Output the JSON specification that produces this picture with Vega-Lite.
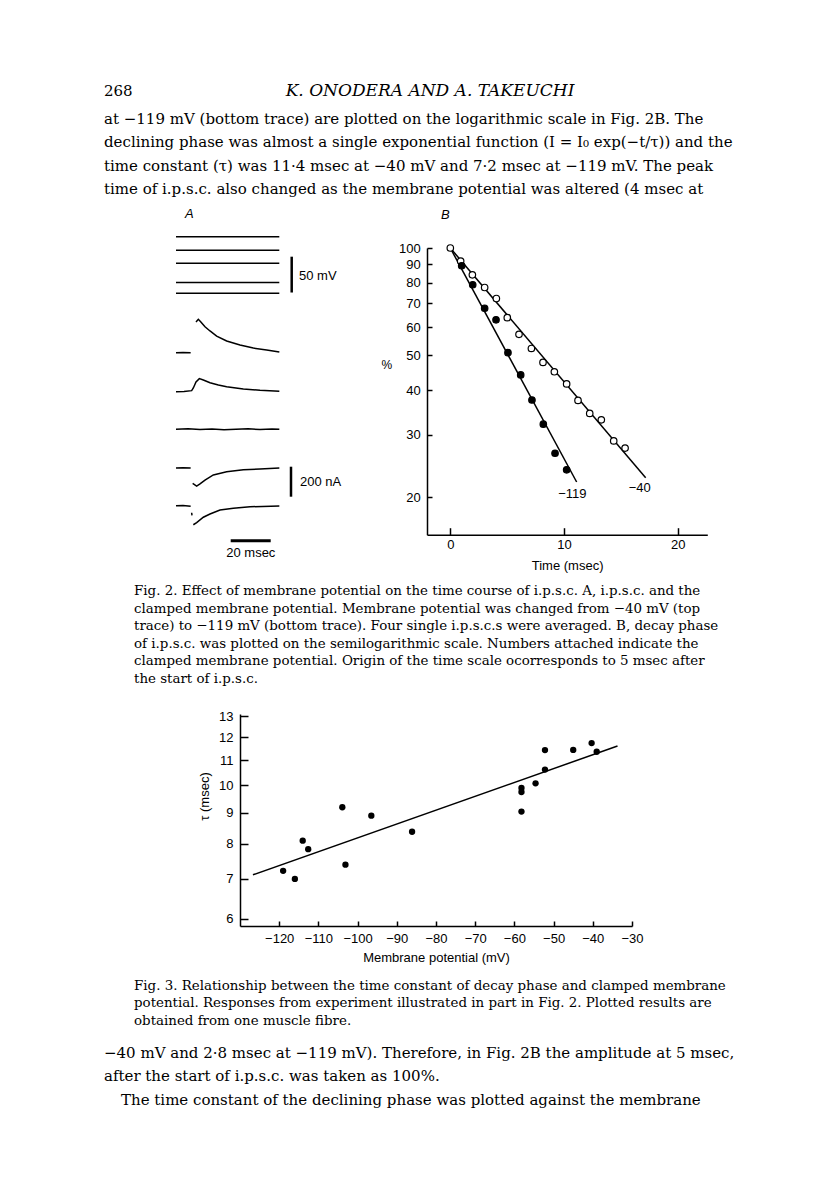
{
  "$schema": "https://vega.github.io/schema/vega-lite/v6.json",
  "background": "white",
  "padding": {"left": 104, "top": 75, "right": 0, "bottom": 0},
  "spacing": 0,
  "config": {
    "view": {"stroke": null},
    "font": "Liberation Sans",
    "axis": {"grid": false, "domainColor": "black", "domainWidth": 1.5, "tickColor": "black", "tickWidth": 1.5, "labelColor": "black", "titleColor": "black", "labelFont": "Liberation Sans", "titleFont": "Liberation Sans", "labelFontSize": 13, "titleFontSize": 13, "titleFontWeight": "normal", "labelFlush": false, "labelOverlap": false},
    "title": {"color": "black"}
  },
  "vconcat": [
    {
      "width": 616, "height": 31.5,
      "data": {"values": [{"line": 0, "pageNumber": "268", "runningHead": "K. ONODERA AND A. TAKEUCHI"}]},
      "encoding": {"y": {"field": "line", "type": "quantitative", "scale": {"domain": [-0.5, 0.5], "reverse": true, "nice": false, "zero": false}, "axis": null}},
      "layer": [
        {"mark": {"type": "text", "align": "left", "baseline": "middle", "font": "DejaVu Serif", "fontSize": 15, "color": "black"},
         "encoding": {"x": {"value": 0}, "text": {"field": "pageNumber"}}},
        {"mark": {"type": "text", "align": "center", "baseline": "middle", "font": "DejaVu Serif", "fontStyle": "italic", "fontSize": 17, "dx": 18, "color": "black"},
         "encoding": {"text": {"field": "runningHead"}}}
      ]
    },
    {
      "width": 616, "height": 100,
      "data": {"values": [
        {"line": 0, "text": "at −119 mV (bottom trace) are plotted on the logarithmic scale in Fig. 2B. The"},
        {"line": 1, "text": "declining phase was almost a single exponential function (I = I₀ exp(−t/τ)) and the"},
        {"line": 2, "text": "time constant (τ) was 11·4 msec at −40 mV and 7·2 msec at −119 mV. The peak"},
        {"line": 3, "text": "time of i.p.s.c. also changed as the membrane potential was altered (4 msec at"}
      ]},
      "mark": {"type": "text", "align": "left", "baseline": "middle", "font": "DejaVu Serif", "fontSize": 15, "color": "black"},
      "encoding": {
        "x": {"value": 0},
        "y": {"field": "line", "type": "quantitative", "scale": {"domain": [-0.5, 3.755], "reverse": true, "nice": false, "zero": false}, "axis": null},
        "text": {"field": "text"}
      }
    },
    {
      "spacing": 0,
      "hconcat": [
        {
          "width": 275.7, "height": 286.7,
          "title": {"text": "A", "anchor": "start", "frame": "group", "dx": 81, "offset": 9, "baseline": "middle", "font": "Liberation Sans", "fontStyle": "italic", "fontWeight": "normal", "fontSize": 13},
          "resolve": {"scale": {"y": "independent"}},
          "layer": [
            {
              "data": {"values": [
                {"holding_mV": -40, "t_start": 0, "t_end": 51.65},
                {"holding_mV": -59, "t_start": 0, "t_end": 51.65},
                {"holding_mV": -77, "t_start": 0, "t_end": 51.65},
                {"holding_mV": -104, "t_start": 0, "t_end": 51.65},
                {"holding_mV": -119, "t_start": 0, "t_end": 51.65}
              ]},
              "mark": {"type": "rule", "strokeWidth": 1.6, "color": "black"},
              "encoding": {
                "x": {"field": "t_start", "type": "quantitative", "scale": {"domain": [-36, 101.85], "nice": false, "zero": false}, "axis": null},
                "x2": {"field": "t_end"},
                "y": {"field": "holding_mV", "type": "quantitative", "scale": {"domain": [-455.9, -55.77], "nice": false, "zero": false}, "axis": null}
              }
            },
            {
              "data": {"values": [
                {"segment": "1a", "t": 0, "current_nA": 0}, {"segment": "1a", "t": 3.5, "current_nA": 1}, {"segment": "1a", "t": 7.33, "current_nA": 0},
                {"segment": "1b", "t": 10.0, "current_nA": 205}, {"segment": "1b", "t": 11.17, "current_nA": 223}, {"segment": "1b", "t": 12.33, "current_nA": 207}, {"segment": "1b", "t": 14.5, "current_nA": 173}, {"segment": "1b", "t": 17.0, "current_nA": 145}, {"segment": "1b", "t": 20.33, "current_nA": 111}, {"segment": "1b", "t": 25.33, "current_nA": 78}, {"segment": "1b", "t": 32.0, "current_nA": 51}, {"segment": "1b", "t": 38.67, "current_nA": 31}, {"segment": "1b", "t": 45.33, "current_nA": 18}, {"segment": "1b", "t": 51.67, "current_nA": 5},
                {"segment": "2", "t": 0, "current_nA": -260}, {"segment": "2", "t": 4, "current_nA": -258}, {"segment": "2", "t": 7.83, "current_nA": -253}, {"segment": "2", "t": 8.67, "current_nA": -235}, {"segment": "2", "t": 10, "current_nA": -195}, {"segment": "2", "t": 11.67, "current_nA": -173}, {"segment": "2", "t": 13.67, "current_nA": -182}, {"segment": "2", "t": 17, "current_nA": -200}, {"segment": "2", "t": 21.17, "current_nA": -215}, {"segment": "2", "t": 25.33, "current_nA": -227}, {"segment": "2", "t": 33.67, "current_nA": -242}, {"segment": "2", "t": 42, "current_nA": -251}, {"segment": "2", "t": 51.67, "current_nA": -257},
                {"segment": "3", "t": 0, "current_nA": -510}, {"segment": "3", "t": 6, "current_nA": -507}, {"segment": "3", "t": 12, "current_nA": -512}, {"segment": "3", "t": 18, "current_nA": -509}, {"segment": "3", "t": 24, "current_nA": -514}, {"segment": "3", "t": 30, "current_nA": -510}, {"segment": "3", "t": 36, "current_nA": -507}, {"segment": "3", "t": 42, "current_nA": -512}, {"segment": "3", "t": 48, "current_nA": -508}, {"segment": "3", "t": 51.67, "current_nA": -510},
                {"segment": "4a", "t": 0, "current_nA": -769}, {"segment": "4a", "t": 3.5, "current_nA": -767}, {"segment": "4a", "t": 7.33, "current_nA": -769},
                {"segment": "4b", "t": 8.33, "current_nA": -871}, {"segment": "4b", "t": 10.33, "current_nA": -889}, {"segment": "4b", "t": 12, "current_nA": -875}, {"segment": "4b", "t": 14.5, "current_nA": -849}, {"segment": "4b", "t": 18.67, "current_nA": -815}, {"segment": "4b", "t": 25.33, "current_nA": -793}, {"segment": "4b", "t": 33.67, "current_nA": -780}, {"segment": "4b", "t": 42, "current_nA": -775}, {"segment": "4b", "t": 51.67, "current_nA": -769},
                {"segment": "5a", "t": 0, "current_nA": -1020}, {"segment": "5a", "t": 3.5, "current_nA": -1018}, {"segment": "5a", "t": 7.33, "current_nA": -1023},
                {"segment": "5b", "t": 7.83, "current_nA": -1067}, {"segment": "5b", "t": 8.0, "current_nA": -1084},
                {"segment": "5c", "t": 8.67, "current_nA": -1147}, {"segment": "5c", "t": 10.33, "current_nA": -1133}, {"segment": "5c", "t": 13.67, "current_nA": -1097}, {"segment": "5c", "t": 17, "current_nA": -1075}, {"segment": "5c", "t": 22, "current_nA": -1049}, {"segment": "5c", "t": 28.67, "current_nA": -1037}, {"segment": "5c", "t": 37, "current_nA": -1027}, {"segment": "5c", "t": 51.67, "current_nA": -1022}
              ]},
              "mark": {"type": "line", "strokeWidth": 1.5, "color": "black"},
              "encoding": {
                "x": {"field": "t", "type": "quantitative", "scale": {"domain": [-36, 101.85], "nice": false, "zero": false}, "axis": null},
                "y": {"field": "current_nA", "type": "quantitative", "scale": {"domain": [-1213.3, 698], "nice": false, "zero": false}, "axis": null},
                "detail": {"field": "segment"}
              }
            },
            {
              "data": {"values": [{"bar": "50 mV", "t": 57.85, "from_mV": -67.9, "to_mV": -117.9}]},
              "mark": {"type": "rule", "strokeWidth": 2.5, "color": "black"},
              "encoding": {
                "x": {"field": "t", "type": "quantitative", "scale": {"domain": [-36, 101.85], "nice": false, "zero": false}, "axis": null},
                "y": {"field": "from_mV", "type": "quantitative", "scale": {"domain": [-455.9, -55.77], "nice": false, "zero": false}, "axis": null},
                "y2": {"field": "to_mV"}
              }
            },
            {
              "data": {"values": [{"bar": "50 mV", "t": 61.5, "level_mV": -94.4}]},
              "mark": {"type": "text", "align": "left", "baseline": "middle", "font": "Liberation Sans", "fontSize": 13, "color": "black"},
              "encoding": {
                "x": {"field": "t", "type": "quantitative", "scale": {"domain": [-36, 101.85], "nice": false, "zero": false}, "axis": null},
                "y": {"field": "level_mV", "type": "quantitative", "scale": {"domain": [-455.9, -55.77], "nice": false, "zero": false}, "axis": null},
                "text": {"field": "bar"}
              }
            },
            {
              "data": {"values": [{"bar": "200 nA", "t": 57.5, "from_nA": -760, "to_nA": -960}]},
              "mark": {"type": "rule", "strokeWidth": 2.5, "color": "black"},
              "encoding": {
                "x": {"field": "t", "type": "quantitative", "scale": {"domain": [-36, 101.85], "nice": false, "zero": false}, "axis": null},
                "y": {"field": "from_nA", "type": "quantitative", "scale": {"domain": [-1213.3, 698], "nice": false, "zero": false}, "axis": null},
                "y2": {"field": "to_nA"}
              }
            },
            {
              "data": {"values": [{"bar": "20 msec", "t_from": 27.35, "t_to": 47.35, "level_nA": -1253.3}]},
              "mark": {"type": "rule", "strokeWidth": 3, "color": "black"},
              "encoding": {
                "x": {"field": "t_from", "type": "quantitative", "scale": {"domain": [-36, 101.85], "nice": false, "zero": false}, "axis": null},
                "x2": {"field": "t_to"},
                "y": {"field": "level_nA", "type": "quantitative", "scale": {"domain": [-1213.3, 698], "nice": false, "zero": false}, "axis": null}
              }
            },
            {
              "data": {"values": [{"bar": "200 nA", "t": 62, "level_nA": -860}]},
              "mark": {"type": "text", "align": "left", "baseline": "middle", "font": "Liberation Sans", "fontSize": 13, "color": "black"},
              "encoding": {
                "x": {"field": "t", "type": "quantitative", "scale": {"domain": [-36, 101.85], "nice": false, "zero": false}, "axis": null},
                "y": {"field": "level_nA", "type": "quantitative", "scale": {"domain": [-1213.3, 698], "nice": false, "zero": false}, "axis": null},
                "text": {"field": "bar"}
              }
            },
            {
              "data": {"values": [{"bar": "20 msec", "t": 37.4, "level_nA": -1333}]},
              "mark": {"type": "text", "align": "center", "baseline": "middle", "font": "Liberation Sans", "fontSize": 13, "color": "black"},
              "encoding": {
                "x": {"field": "t", "type": "quantitative", "scale": {"domain": [-36, 101.85], "nice": false, "zero": false}, "axis": null},
                "y": {"field": "level_nA", "type": "quantitative", "scale": {"domain": [-1213.3, 698], "nice": false, "zero": false}, "axis": null},
                "text": {"field": "bar"}
              }
            }
          ]
        },
        {
          "width": 280.3, "height": 286.7,
          "title": {"text": "B", "anchor": "start", "frame": "group", "dx": 14, "offset": 14.5, "baseline": "middle", "font": "Liberation Sans", "fontStyle": "italic", "fontWeight": "normal", "fontSize": 13},
          "encoding": {
            "x": {"field": "t", "type": "quantitative", "scale": {"domain": [-2.05, 22.6], "nice": false, "zero": false},
                  "axis": {"values": [0, 10, 20], "format": "d", "tickSize": -7, "labelPadding": 11, "title": "Time (msec)", "titleY": 31, "titleBaseline": "middle"}},
            "y": {"field": "pct", "type": "quantitative", "scale": {"type": "log", "domain": [15.73, 100], "nice": false},
                  "axis": {"values": [20, 30, 40, 50, 60, 70, 80, 90, 100], "format": "d", "tickSize": -5, "labelPadding": 11.7, "title": "%", "titleAngle": 0, "titleX": -40.7, "titleY": 116, "titleAlign": "center", "titleBaseline": "middle", "titleFontSize": 12}}
          },
          "layer": [
            {
              "data": {"values": [
                {"series": "−40", "t": 0, "pct": 100}, {"series": "−40", "t": 17.18, "pct": 22.7},
                {"series": "−119", "t": 0, "pct": 100}, {"series": "−119", "t": 11.11, "pct": 22.1}
              ]},
              "mark": {"type": "line", "color": "black", "strokeWidth": 1.5},
              "encoding": {"detail": {"field": "series"}}
            },
            {
              "data": {"values": [
                {"series": "−40", "t": 0, "pct": 100}, {"series": "−40", "t": 0.91, "pct": 91.9}, {"series": "−40", "t": 1.94, "pct": 84.1}, {"series": "−40", "t": 3.02, "pct": 77.5}, {"series": "−40", "t": 4.05, "pct": 72.2}, {"series": "−40", "t": 5.01, "pct": 63.8}, {"series": "−40", "t": 6.04, "pct": 57.3}, {"series": "−40", "t": 7.13, "pct": 52.3}, {"series": "−40", "t": 8.15, "pct": 47.8}, {"series": "−40", "t": 9.15, "pct": 45.0}, {"series": "−40", "t": 10.23, "pct": 41.6}, {"series": "−40", "t": 11.23, "pct": 37.4}, {"series": "−40", "t": 12.26, "pct": 34.4}, {"series": "−40", "t": 13.28, "pct": 33.0}, {"series": "−40", "t": 14.37, "pct": 28.8}, {"series": "−40", "t": 15.37, "pct": 27.5},
                {"series": "−119", "t": 1.0, "pct": 89.2}, {"series": "−119", "t": 1.97, "pct": 78.9}, {"series": "−119", "t": 3.02, "pct": 67.8}, {"series": "−119", "t": 4.02, "pct": 62.9}, {"series": "−119", "t": 5.07, "pct": 50.9}, {"series": "−119", "t": 6.19, "pct": 44.1}, {"series": "−119", "t": 7.18, "pct": 37.5}, {"series": "−119", "t": 8.18, "pct": 32.1}, {"series": "−119", "t": 9.21, "pct": 26.6}, {"series": "−119", "t": 10.23, "pct": 23.9}
              ]},
              "mark": {"type": "point", "shape": "circle", "size": 42, "stroke": "black", "strokeWidth": 1.2, "opacity": 1},
              "encoding": {"fill": {"field": "series", "type": "nominal", "scale": {"domain": ["−40", "−119"], "range": ["white", "black"]}, "legend": null}}
            },
            {
              "data": {"values": [{"series": "−119", "t": 10.73, "pct": 20.47}, {"series": "−40", "t": 16.66, "pct": 21.24}]},
              "mark": {"type": "text", "align": "center", "baseline": "middle", "font": "Liberation Sans", "fontSize": 13, "color": "black"},
              "encoding": {"text": {"field": "series"}}
            }
          ]
        }
      ]
    },
    {
      "width": 616, "height": 136.7,
      "data": {"values": [
        {"line": 0, "text": "Fig. 2. Effect of membrane potential on the time course of i.p.s.c. A, i.p.s.c. and the"},
        {"line": 1, "text": "clamped membrane potential. Membrane potential was changed from −40 mV (top"},
        {"line": 2, "text": "trace) to −119 mV (bottom trace). Four single i.p.s.c.s were averaged. B, decay phase"},
        {"line": 3, "text": "of i.p.s.c. was plotted on the semilogarithmic scale. Numbers attached indicate the"},
        {"line": 4, "text": "clamped membrane potential. Origin of the time scale ocorresponds to 5 msec after"},
        {"line": 5, "text": "the start of i.p.s.c."}
      ]},
      "mark": {"type": "text", "align": "left", "baseline": "middle", "font": "DejaVu Serif", "fontSize": 13.4, "color": "black"},
      "encoding": {
        "x": {"value": 30},
        "y": {"field": "line", "type": "quantitative", "scale": {"domain": [-1.063, 6.793], "reverse": true, "nice": false, "zero": false}, "axis": null},
        "text": {"field": "text"}
      }
    },
    {
      "spacing": 0,
      "hconcat": [
        {
          "width": 93.5, "height": 10,
          "data": {"values": [{"blank": ""}]},
          "mark": {"type": "text"},
          "encoding": {"text": {"field": "blank"}}
        },
        {
          "width": 392, "height": 212,
          "encoding": {
            "x": {"field": "mV", "type": "quantitative", "scale": {"domain": [-130, -30], "nice": false, "zero": false},
                  "axis": {"values": [-120, -110, -100, -90, -80, -70, -60, -50, -40, -30], "format": "d", "tickSize": -5, "labelPadding": 11, "title": "Membrane potential (mV)", "titleY": 31.4, "titleBaseline": "middle"}},
            "y": {"field": "tau", "type": "quantitative", "scale": {"type": "log", "domain": [5.84, 13.12], "nice": false},
                  "axis": {"values": [6, 7, 8, 9, 10, 11, 12, 13], "format": "d", "tickSize": -8, "labelPadding": 15, "title": "τ (msec)", "titleX": -36, "titleY": 82, "titleAlign": "center", "titleBaseline": "middle"}}
          },
          "layer": [
            {
              "data": {"values": [{"mV": -126.7, "tau": 7.10}, {"mV": -33.7, "tau": 11.61}]},
              "mark": {"type": "line", "color": "black", "strokeWidth": 1.5}
            },
            {
              "data": {"values": [
                {"mV": -119.0, "tau": 7.21}, {"mV": -116.0, "tau": 6.99}, {"mV": -114.0, "tau": 8.09}, {"mV": -112.6, "tau": 7.83},
                {"mV": -103.9, "tau": 9.19}, {"mV": -103.1, "tau": 7.38}, {"mV": -96.5, "tau": 8.90}, {"mV": -86.1, "tau": 8.37},
                {"mV": -58.2, "tau": 9.89}, {"mV": -58.2, "tau": 9.74}, {"mV": -58.2, "tau": 9.04}, {"mV": -54.6, "tau": 10.07},
                {"mV": -52.2, "tau": 11.43}, {"mV": -52.2, "tau": 10.61}, {"mV": -45.0, "tau": 11.44}, {"mV": -40.3, "tau": 11.74}, {"mV": -39.0, "tau": 11.36}
              ]},
              "mark": {"type": "point", "shape": "circle", "filled": true, "color": "black", "size": 40, "opacity": 1}
            }
          ]
        }
      ]
    },
    {
      "width": 616, "height": 72.8,
      "data": {"values": [
        {"line": 0, "text": "Fig. 3. Relationship between the time constant of decay phase and clamped membrane"},
        {"line": 1, "text": "potential. Responses from experiment illustrated in part in Fig. 2. Plotted results are"},
        {"line": 2, "text": "obtained from one muscle fibre."}
      ]},
      "mark": {"type": "text", "align": "left", "baseline": "middle", "font": "DejaVu Serif", "fontSize": 13.4, "color": "black"},
      "encoding": {
        "x": {"value": 30},
        "y": {"field": "line", "type": "quantitative", "scale": {"domain": [-1.195, 2.989], "reverse": true, "nice": false, "zero": false}, "axis": null},
        "text": {"field": "text"}
      }
    },
    {
      "width": 616, "height": 80,
      "data": {"values": [
        {"line": 0, "text": "−40 mV and 2·8 msec at −119 mV). Therefore, in Fig. 2B the amplitude at 5 msec,", "indent": "no"},
        {"line": 1, "text": "after the start of i.p.s.c. was taken as 100%.", "indent": "no"},
        {"line": 2, "text": "The time constant of the declining phase was plotted against the membrane", "indent": "yes"}
      ]},
      "encoding": {
        "y": {"field": "line", "type": "quantitative", "scale": {"domain": [-0.617, 2.787], "reverse": true, "nice": false, "zero": false}, "axis": null},
        "text": {"field": "text"}
      },
      "layer": [
        {"transform": [{"filter": "datum.indent === 'no'"}],
         "mark": {"type": "text", "align": "left", "baseline": "middle", "font": "DejaVu Serif", "fontSize": 15, "color": "black"},
         "encoding": {"x": {"value": 0}}},
        {"transform": [{"filter": "datum.indent === 'yes'"}],
         "mark": {"type": "text", "align": "left", "baseline": "middle", "font": "DejaVu Serif", "fontSize": 15, "color": "black"},
         "encoding": {"x": {"value": 17}}}
      ]
    }
  ]
}
